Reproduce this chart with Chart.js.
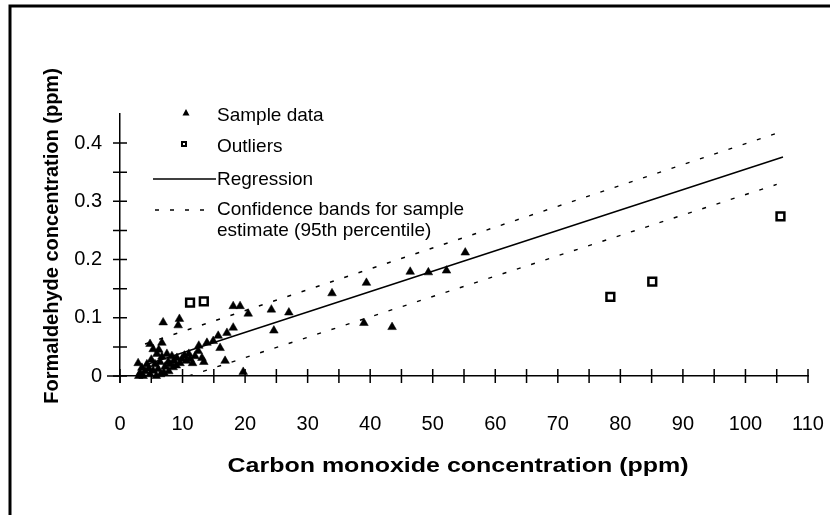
<!DOCTYPE html>
<html>
<head>
<meta charset="utf-8">
<script src="https://cdn.jsdelivr.net/npm/chart.js@4.4.1/dist/chart.umd.min.js"></script>
<style>
  html, body { margin: 0; padding: 0; background: #fff; }
  canvas { display: block; }
</style>
</head>
<body>
<canvas id="chart" width="830" height="515"></canvas>
<script>
// carbon monoxide (ppm) vs formaldehyde (ppm)
const sampleCO = [2.9, 3.2, 3.5, 3.7, 4.0, 4.3, 4.6, 4.8, 4.8, 5.0, 5.3, 5.3, 5.6, 5.8, 5.9, 6.1, 6.4, 6.7, 6.7, 6.9,
    7.0, 7.2, 7.5, 7.7, 8.0, 8.3, 8.6, 9.1, 9.3, 9.5, 9.6, 9.9, 10.3, 10.6, 11.2, 11.6, 12.0, 12.5, 12.6, 13.1,
    13.4, 13.9, 14.9, 15.7, 16.0, 16.8, 17.1, 18.1, 18.1, 19.2, 19.7, 20.5, 24.2, 24.6, 27.0, 33.9, 39.4, 39.0,
    43.5, 46.4, 49.3, 52.2, 55.2, 3.0, 6.5, 7.8, 8.5, 9.0, 6.2, 11.0];
const sampleHCHO = [0.022, 0.005, 0.014, 0.0, 0.008, 0.02, 0.013, 0.003, 0.055, 0.028, 0.046, 0.009, 0.02, 0.0, 0.038, 0.012, 0.024, 0.033, 0.057, 0.092,
    0.006, 0.016, 0.038, 0.024, 0.02, 0.034, 0.026, 0.031, 0.087, 0.098, 0.022, 0.029, 0.035, 0.026, 0.029, 0.022, 0.034, 0.043, 0.052, 0.031,
    0.024, 0.057, 0.06, 0.069, 0.048, 0.026, 0.074, 0.083, 0.12, 0.12, 0.007, 0.107, 0.114, 0.078, 0.109, 0.142, 0.16, 0.091,
    0.084, 0.179, 0.178, 0.181, 0.212, 0.0, 0.003, 0.008, 0.015, 0.018, 0.045, 0.038];

const outlierCO = [11.2, 13.4, 78.4, 85.1, 105.6];
const outlierHCHO = [0.126, 0.128, 0.136, 0.162, 0.274];

const regressionCO = [4, 106];
const regressionHCHO = [0.019, 0.376];
const upperCO = [4, 105];
const upperHCHO = [0.055, 0.417];
const lowerCO = [11, 105];
const lowerHCHO = [0, 0.329];

const legendLabels = ['Sample data', 'Outliers', 'Regression', 'Confidence bands for sample', 'estimate (95th percentile)'];
const xTitle = 'Carbon monoxide concentration (ppm)';
const yTitle = 'Formaldehyde concentration (ppm)';

const FONT = '"Liberation Sans", Arial, Helvetica, sans-serif';
const pairs = (xs, ys) => xs.map((x, i) => ({ x, y: ys[i] }));

// frame, crossing tick marks, axis titles and the legend block
const decorations = {
    id: 'decorations',
    afterDraw(chart) {
        const { ctx, chartArea } = chart;
        const xs = chart.scales.x;
        const ys = chart.scales.y;
        ctx.save();
        ctx.strokeStyle = '#000';
        ctx.fillStyle = '#000';

        // outer frame (left and top only)
        ctx.lineWidth = 3;
        ctx.beginPath();
        ctx.moveTo(10, 515);
        ctx.lineTo(10, 6);
        ctx.lineTo(830, 6);
        ctx.stroke();

        // axis stubs past the origin
        ctx.lineWidth = 1.5;
        ctx.beginPath();
        ctx.moveTo(chartArea.left - 13, chartArea.bottom);
        ctx.lineTo(chartArea.left, chartArea.bottom);
        ctx.moveTo(chartArea.left, chartArea.bottom);
        ctx.lineTo(chartArea.left, chartArea.bottom + 7);
        ctx.stroke();

        // ticks crossing the axes
        ctx.beginPath();
        xs.ticks.forEach(t => {
            const px = xs.getPixelForValue(t.value);
            ctx.moveTo(px, chartArea.bottom - 7);
            ctx.lineTo(px, chartArea.bottom + 7);
        });
        ys.ticks.forEach(t => {
            if (t.value > 0.42) return;
            const py = ys.getPixelForValue(t.value);
            ctx.moveTo(chartArea.left - 7, py);
            ctx.lineTo(chartArea.left + 7, py);
        });
        ctx.stroke();

        // axis titles
        ctx.font = 'bold 20px ' + FONT;
        ctx.textBaseline = 'middle';
        ctx.textAlign = 'center';
        ctx.save();
        ctx.translate(458, 466);
        ctx.scale(1.25, 1);
        ctx.fillText(xTitle, 0, 0);
        ctx.restore();
        ctx.save();
        ctx.translate(52, 236);
        ctx.rotate(-Math.PI / 2);
        ctx.fillText(yTitle, 0, 0);
        ctx.restore();

        // legend
        ctx.font = '19px ' + FONT;
        ctx.textAlign = 'left';
        const tx = 217;
        ctx.beginPath();
        ctx.moveTo(186, 109);
        ctx.lineTo(189.5, 115.5);
        ctx.lineTo(182.5, 115.5);
        ctx.closePath();
        ctx.fill();
        ctx.fillText(legendLabels[0], tx, 116);

        ctx.fillRect(181, 141, 6, 6);
        ctx.fillStyle = '#fff';
        ctx.fillRect(183, 143, 2, 2);
        ctx.fillStyle = '#000';
        ctx.fillText(legendLabels[1], tx, 147);

        ctx.lineWidth = 1.3;
        ctx.beginPath();
        ctx.moveTo(153, 179);
        ctx.lineTo(216, 179);
        ctx.stroke();
        ctx.fillText(legendLabels[2], tx, 180);

        ctx.setLineDash([4, 11]);
        ctx.beginPath();
        ctx.moveTo(155, 210);
        ctx.lineTo(212, 210);
        ctx.stroke();
        ctx.setLineDash([]);
        ctx.fillText(legendLabels[3], tx, 210);
        ctx.fillText(legendLabels[4], tx, 231);

        ctx.restore();
    }
};

new Chart(document.getElementById('chart'), {
    type: 'scatter',
    data: {
        datasets: [
            {
                label: legendLabels[0],
                data: pairs(sampleCO, sampleHCHO),
                pointStyle: 'triangle',
                pointRadius: 5,
                backgroundColor: '#000',
                borderColor: '#000',
                borderWidth: 0.5,
                clip: false
            },
            {
                label: legendLabels[1],
                data: pairs(outlierCO, outlierHCHO),
                pointStyle: 'rect',
                pointRadius: 5.5,
                backgroundColor: '#fff',
                borderColor: '#000',
                borderWidth: 2.5,
                clip: false
            },
            {
                type: 'line',
                label: legendLabels[2],
                data: pairs(regressionCO, regressionHCHO),
                borderColor: '#000',
                borderWidth: 1.5,
                pointRadius: 0,
                fill: false
            },
            {
                type: 'line',
                label: 'Upper band',
                data: pairs(upperCO, upperHCHO),
                borderColor: '#000',
                borderWidth: 1.4,
                borderDash: [4, 11],
                pointRadius: 0,
                fill: false
            },
            {
                type: 'line',
                label: 'Lower band',
                data: pairs(lowerCO, lowerHCHO),
                borderColor: '#000',
                borderWidth: 1.4,
                borderDash: [4, 11],
                pointRadius: 0,
                fill: false
            }
        ]
    },
    options: {
        responsive: false,
        animation: false,
        devicePixelRatio: 1,
        layout: { padding: { top: 114, right: 22, left: 0, bottom: 0 } },
        plugins: {
            legend: { display: false },
            tooltip: { enabled: false }
        },
        scales: {
            x: {
                type: 'linear',
                min: 0,
                max: 110,
                afterFit: s => { s.height = 139; s.paddingLeft = 0; s.paddingRight = 0; },
                grid: { display: false, drawTicks: false },
                border: { display: true, color: '#000', width: 1.5 },
                ticks: {
                    stepSize: 5,
                    autoSkip: false,
                    maxRotation: 0,
                    padding: 36,
                    color: '#000',
                    font: { family: FONT, size: 20 },
                    callback: v => (v % 10 === 0 ? String(v) : '')
                }
            },
            y: {
                min: 0,
                max: 0.45,
                afterFit: s => { s.width = 120; s.paddingTop = 0; s.paddingBottom = 0; },
                grid: { display: false, drawTicks: false },
                border: { display: true, color: '#000', width: 1.5 },
                ticks: {
                    stepSize: 0.05,
                    autoSkip: false,
                    padding: 18,
                    color: '#000',
                    font: { family: FONT, size: 20 },
                    callback: v => {
                        const r = Math.round(v * 100);
                        if (r % 10 !== 0 || r > 40) return '';
                        return r === 0 ? '0' : (r / 100).toFixed(1);
                    }
                }
            }
        }
    },
    plugins: [decorations]
});
</script>
</body>
</html>
